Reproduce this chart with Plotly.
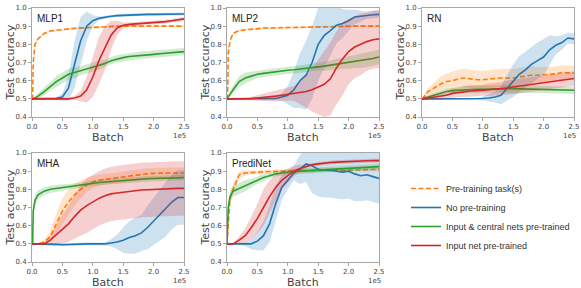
import plotly.graph_objects as go

# ---------------- data (batch in units of 1e5) ----------------
BATCH_1E5 = [0, 0.01, 0.02, 0.05, 0.1, 0.2, 0.3, 0.4, 0.5, 0.6, 0.7, 0.8, 0.9, 1.0,
             1.1, 1.2, 1.3, 1.4, 1.5, 1.6, 1.7, 1.8, 1.9, 2.0, 2.1, 2.2, 2.3, 2.4, 2.5]

PANEL_TITLES = ["MLP1", "MLP2", "RN", "MHA", "PrediNet"]
SERIES_NAMES = ["Pre-training task(s)", "No pre-training",
                "Input & central nets pre-trained", "Input net pre-trained"]
X_TICKS = [0, 0.5, 1.0, 1.5, 2.0, 2.5]
X_TICK_LABELS = ["0.0", "0.5", "1.0", "1.5", "2.0", "2.5"]
Y_TICKS = [0.4, 0.5, 0.6, 0.7, 0.8, 0.9, 1.0]
Y_TICK_LABELS = ["0.4", "0.5", "0.6", "0.7", "0.8", "0.9", "1.0"]

# MLP1
MLP1_PRE = [0.5, 0.5, 0.7, 0.8, 0.83, 0.86, 0.873, 0.878, 0.882, 0.885, 0.888, 0.89, 0.892, 0.894,
            0.896, 0.898, 0.899, 0.9, 0.9, 0.9, 0.9, 0.9, 0.9, 0.9, 0.9, 0.9, 0.9, 0.9, 0.9]
MLP1_PRE_SD = [0, 0, 0.02, 0.01, 0.008, 0.006, 0.005, 0.005, 0.005, 0.005, 0.005, 0.005, 0.005, 0.005,
               0.005, 0.005, 0.005, 0.005, 0.005, 0.005, 0.005, 0.005, 0.005, 0.005, 0.005, 0.005, 0.005, 0.005, 0.005]
MLP1_NONE = [0.5, 0.5, 0.5, 0.5, 0.5, 0.5, 0.5, 0.503, 0.51, 0.56, 0.69, 0.82, 0.9, 0.93,
             0.943, 0.95, 0.955, 0.958, 0.96, 0.962, 0.963, 0.964, 0.965, 0.965, 0.966, 0.966, 0.967, 0.967, 0.967]
MLP1_NONE_SD = [0.005, 0.005, 0.005, 0.005, 0.005, 0.005, 0.005, 0.006, 0.02, 0.07, 0.13, 0.13, 0.08, 0.03,
                0.01, 0.008, 0.008, 0.008, 0.008, 0.008, 0.008, 0.008, 0.008, 0.008, 0.008, 0.008, 0.008, 0.008, 0.008]
MLP1_BOTH = [0.5, 0.5, 0.5, 0.505, 0.515, 0.54, 0.57, 0.595, 0.615, 0.635, 0.645, 0.655, 0.665, 0.675,
             0.685, 0.695, 0.71, 0.72, 0.727, 0.733, 0.737, 0.74, 0.742, 0.745, 0.748, 0.751, 0.754, 0.757, 0.76]
MLP1_BOTH_SD = [0.005, 0.005, 0.008, 0.01, 0.015, 0.02, 0.025, 0.03, 0.03, 0.03, 0.03, 0.025, 0.025, 0.025,
                0.025, 0.02, 0.02, 0.02, 0.02, 0.02, 0.02, 0.02, 0.02, 0.02, 0.02, 0.02, 0.02, 0.02, 0.02]
MLP1_INPUT = [0.5, 0.5, 0.5, 0.5, 0.5, 0.5, 0.5, 0.5, 0.5, 0.5, 0.505, 0.515, 0.55, 0.62,
              0.71, 0.78, 0.85, 0.89, 0.905, 0.91, 0.912, 0.915, 0.917, 0.92, 0.922, 0.925, 0.93, 0.935, 0.94]
MLP1_INPUT_SD = [0.005, 0.005, 0.005, 0.005, 0.005, 0.005, 0.005, 0.005, 0.005, 0.005, 0.01, 0.03, 0.07, 0.11,
                 0.13, 0.12, 0.08, 0.04, 0.015, 0.01, 0.01, 0.01, 0.01, 0.01, 0.01, 0.01, 0.01, 0.01, 0.01]

# MLP2
MLP2_PRE = [0.5, 0.5, 0.75, 0.82, 0.86, 0.875, 0.88, 0.884, 0.887, 0.889, 0.89, 0.891, 0.892, 0.893,
            0.894, 0.895, 0.896, 0.897, 0.898, 0.899, 0.9, 0.9, 0.9, 0.9, 0.9, 0.9, 0.9, 0.9, 0.9]
MLP2_PRE_SD = [0, 0, 0.02, 0.01, 0.008, 0.006, 0.005, 0.005, 0.005, 0.005, 0.005, 0.005, 0.005, 0.005,
               0.005, 0.005, 0.005, 0.005, 0.005, 0.005, 0.005, 0.005, 0.005, 0.005, 0.005, 0.005, 0.005, 0.005, 0.005]
MLP2_NONE = [0.5, 0.5, 0.5, 0.5, 0.5, 0.5, 0.5, 0.5, 0.5, 0.5, 0.5, 0.502, 0.51, 0.52,
             0.55, 0.6, 0.63, 0.7, 0.8, 0.85, 0.875, 0.905, 0.915, 0.93, 0.95, 0.955, 0.96, 0.963, 0.965]
MLP2_NONE_SD = [0.005, 0.005, 0.005, 0.005, 0.005, 0.005, 0.005, 0.005, 0.005, 0.005, 0.005, 0.01, 0.02, 0.05,
                0.1, 0.15, 0.19, 0.2, 0.2, 0.18, 0.14, 0.1, 0.08, 0.06, 0.04, 0.03, 0.02, 0.02, 0.02]
MLP2_BOTH = [0.5, 0.505, 0.51, 0.53, 0.55, 0.595, 0.615, 0.625, 0.635, 0.64, 0.645, 0.65, 0.653, 0.657,
             0.66, 0.665, 0.67, 0.673, 0.676, 0.68, 0.685, 0.69, 0.695, 0.7, 0.705, 0.71, 0.715, 0.722, 0.73]
MLP2_BOTH_SD = [0.01, 0.01, 0.01, 0.015, 0.02, 0.03, 0.03, 0.025, 0.02, 0.02, 0.02, 0.02, 0.02, 0.02,
                0.02, 0.02, 0.02, 0.02, 0.02, 0.025, 0.025, 0.03, 0.03, 0.035, 0.035, 0.04, 0.04, 0.04, 0.04]
MLP2_INPUT = [0.5, 0.5, 0.5, 0.5, 0.5, 0.5, 0.5, 0.502, 0.505, 0.507, 0.51, 0.515, 0.52, 0.525,
              0.53, 0.532, 0.54, 0.55, 0.565, 0.58, 0.61, 0.67, 0.72, 0.76, 0.785, 0.8, 0.815, 0.825, 0.83]
MLP2_INPUT_SD = [0.005, 0.005, 0.005, 0.005, 0.005, 0.005, 0.005, 0.01, 0.015, 0.02, 0.025, 0.03, 0.03, 0.035,
                 0.04, 0.06, 0.09, 0.12, 0.15, 0.18, 0.2, 0.2, 0.2, 0.18, 0.17, 0.17, 0.16, 0.16, 0.16]

# RN
RN_PRE = [0.5, 0.5, 0.505, 0.52, 0.54, 0.56, 0.58, 0.595, 0.6, 0.61, 0.615, 0.61, 0.605, 0.605,
          0.61, 0.612, 0.615, 0.615, 0.615, 0.62, 0.625, 0.63, 0.63, 0.632, 0.635, 0.638, 0.645, 0.645, 0.642]
RN_PRE_SD = [0, 0.005, 0.01, 0.015, 0.02, 0.03, 0.04, 0.045, 0.05, 0.05, 0.05, 0.05, 0.05, 0.05,
             0.05, 0.05, 0.05, 0.05, 0.05, 0.05, 0.05, 0.05, 0.045, 0.045, 0.04, 0.04, 0.04, 0.04, 0.04]
RN_NONE = [0.5, 0.5, 0.5, 0.5, 0.5, 0.5, 0.5, 0.5, 0.5, 0.5, 0.5, 0.5, 0.5, 0.502,
           0.505, 0.51, 0.52, 0.56, 0.6, 0.635, 0.66, 0.69, 0.71, 0.73, 0.77, 0.795, 0.81, 0.835, 0.83]
RN_NONE_SD = [0.005, 0.005, 0.005, 0.005, 0.005, 0.005, 0.005, 0.005, 0.005, 0.005, 0.005, 0.005, 0.005, 0.01,
              0.02, 0.03, 0.05, 0.07, 0.09, 0.1, 0.1, 0.1, 0.1, 0.1, 0.08, 0.05, 0.04, 0.03, 0.03]
RN_BOTH = [0.5, 0.5, 0.502, 0.505, 0.51, 0.52, 0.53, 0.54, 0.545, 0.548, 0.55, 0.552, 0.553, 0.553,
           0.554, 0.555, 0.555, 0.556, 0.556, 0.555, 0.554, 0.553, 0.552, 0.551, 0.55, 0.55, 0.549, 0.548, 0.547]
RN_BOTH_SD = [0.005, 0.005, 0.008, 0.01, 0.01, 0.012, 0.015, 0.015, 0.015, 0.018, 0.02, 0.02, 0.02, 0.02,
              0.02, 0.02, 0.02, 0.02, 0.02, 0.02, 0.02, 0.02, 0.02, 0.02, 0.02, 0.02, 0.02, 0.02, 0.02]
RN_INPUT = [0.5, 0.5, 0.5, 0.502, 0.505, 0.51, 0.515, 0.52, 0.53, 0.535, 0.54, 0.543, 0.545, 0.547,
            0.55, 0.553, 0.556, 0.56, 0.565, 0.57, 0.575, 0.58, 0.585, 0.59, 0.595, 0.6, 0.605, 0.61, 0.612]
RN_INPUT_SD = [0.005, 0.005, 0.008, 0.01, 0.012, 0.015, 0.02, 0.02, 0.025, 0.025, 0.03, 0.03, 0.03, 0.03,
               0.035, 0.035, 0.035, 0.04, 0.04, 0.04, 0.04, 0.04, 0.04, 0.04, 0.04, 0.04, 0.04, 0.04, 0.04]

# MHA
MHA_PRE = [0.5, 0.5, 0.5, 0.5, 0.5, 0.51, 0.54, 0.61, 0.68, 0.73, 0.77, 0.8, 0.825, 0.84,
           0.85, 0.855, 0.86, 0.865, 0.87, 0.875, 0.88, 0.883, 0.886, 0.888, 0.89, 0.89, 0.89, 0.89, 0.89]
MHA_PRE_SD = [0.005, 0.005, 0.005, 0.005, 0.005, 0.01, 0.03, 0.06, 0.07, 0.07, 0.06, 0.05, 0.04, 0.035,
              0.03, 0.03, 0.03, 0.03, 0.03, 0.03, 0.03, 0.03, 0.03, 0.03, 0.03, 0.03, 0.03, 0.03, 0.03]
MHA_NONE = [0.5, 0.5, 0.5, 0.5, 0.5, 0.5, 0.498, 0.497, 0.495, 0.497, 0.498, 0.5, 0.5, 0.5,
            0.5, 0.5, 0.505, 0.51, 0.52, 0.535, 0.545, 0.56, 0.59, 0.625, 0.66, 0.69, 0.73, 0.755, 0.755]
MHA_NONE_SD = [0.005, 0.005, 0.005, 0.005, 0.005, 0.008, 0.008, 0.008, 0.008, 0.008, 0.008, 0.008, 0.008, 0.008,
               0.008, 0.008, 0.02, 0.04, 0.07, 0.09, 0.1, 0.1, 0.12, 0.13, 0.14, 0.15, 0.15, 0.15, 0.15]
MHA_BOTH = [0.5, 0.5, 0.68, 0.74, 0.77, 0.79, 0.8, 0.805, 0.81, 0.815, 0.82, 0.825, 0.83, 0.835,
            0.838, 0.84, 0.843, 0.846, 0.849, 0.852, 0.855, 0.857, 0.858, 0.86, 0.86, 0.862, 0.862, 0.863, 0.865]
MHA_BOTH_SD = [0, 0.01, 0.03, 0.03, 0.025, 0.02, 0.02, 0.02, 0.018, 0.015, 0.015, 0.015, 0.015, 0.015,
               0.015, 0.015, 0.015, 0.015, 0.015, 0.015, 0.015, 0.015, 0.015, 0.015, 0.015, 0.015, 0.015, 0.015, 0.015]
MHA_INPUT = [0.5, 0.5, 0.5, 0.5, 0.5, 0.5, 0.52, 0.55, 0.58, 0.61, 0.65, 0.685, 0.71, 0.73,
             0.75, 0.765, 0.775, 0.78, 0.785, 0.79, 0.793, 0.796, 0.798, 0.8, 0.8, 0.802, 0.803, 0.805, 0.805]
MHA_INPUT_SD = [0.005, 0.005, 0.005, 0.005, 0.005, 0.005, 0.02, 0.05, 0.08, 0.1, 0.12, 0.14, 0.15, 0.15,
                0.15, 0.15, 0.15, 0.15, 0.15, 0.15, 0.15, 0.15, 0.15, 0.15, 0.15, 0.15, 0.15, 0.15, 0.15]

# PrediNet
PREDINET_PRE = [0.5, 0.55, 0.65, 0.75, 0.8, 0.88, 0.89, 0.893, 0.895, 0.897, 0.898, 0.899, 0.9, 0.9,
                0.9, 0.9, 0.902, 0.903, 0.905, 0.905, 0.905, 0.905, 0.905, 0.906, 0.907, 0.908, 0.909, 0.91, 0.91]
PREDINET_PRE_SD = [0, 0.02, 0.03, 0.03, 0.03, 0.02, 0.015, 0.01, 0.01, 0.01, 0.01, 0.01, 0.01, 0.01,
                   0.01, 0.01, 0.01, 0.01, 0.01, 0.01, 0.01, 0.01, 0.01, 0.01, 0.01, 0.01, 0.01, 0.01, 0.01]
PREDINET_NONE = [0.5, 0.5, 0.5, 0.5, 0.5, 0.5, 0.497, 0.5, 0.515, 0.545, 0.61, 0.72, 0.81, 0.85,
                 0.89, 0.91, 0.94, 0.93, 0.91, 0.905, 0.905, 0.9, 0.895, 0.9, 0.885, 0.875, 0.88, 0.87, 0.86]
PREDINET_NONE_SD = [0.005, 0.005, 0.005, 0.005, 0.005, 0.005, 0.01, 0.03, 0.05, 0.08, 0.1, 0.1, 0.07, 0.05,
                    0.04, 0.08, 0.1, 0.15, 0.15, 0.15, 0.15, 0.15, 0.15, 0.15, 0.15, 0.14, 0.14, 0.14, 0.14]
PREDINET_BOTH = [0.5, 0.6, 0.7, 0.76, 0.79, 0.805, 0.82, 0.835, 0.85, 0.865, 0.875, 0.885, 0.89, 0.895,
                 0.898, 0.9, 0.902, 0.905, 0.907, 0.91, 0.912, 0.914, 0.916, 0.918, 0.92, 0.921, 0.922, 0.924, 0.925]
PREDINET_BOTH_SD = [0, 0.02, 0.03, 0.03, 0.03, 0.03, 0.03, 0.025, 0.02, 0.02, 0.015, 0.015, 0.015, 0.015,
                    0.015, 0.015, 0.015, 0.015, 0.015, 0.015, 0.015, 0.015, 0.015, 0.015, 0.015, 0.015, 0.015, 0.015, 0.015]
PREDINET_INPUT = [0.5, 0.5, 0.5, 0.5, 0.5, 0.52, 0.545, 0.59, 0.64, 0.7, 0.76, 0.81, 0.85, 0.875,
                  0.9, 0.915, 0.925, 0.935, 0.94, 0.945, 0.948, 0.95, 0.952, 0.955, 0.955, 0.956, 0.957, 0.958, 0.958]
PREDINET_INPUT_SD = [0.005, 0.005, 0.005, 0.005, 0.005, 0.02, 0.04, 0.06, 0.08, 0.1, 0.09, 0.07, 0.05, 0.04,
                     0.03, 0.02, 0.01, 0.01, 0.01, 0.01, 0.01, 0.01, 0.01, 0.01, 0.01, 0.01, 0.01, 0.01, 0.01]

PANEL_DATA = [
    [(MLP1_PRE, MLP1_PRE_SD), (MLP1_NONE, MLP1_NONE_SD), (MLP1_BOTH, MLP1_BOTH_SD), (MLP1_INPUT, MLP1_INPUT_SD)],
    [(MLP2_PRE, MLP2_PRE_SD), (MLP2_NONE, MLP2_NONE_SD), (MLP2_BOTH, MLP2_BOTH_SD), (MLP2_INPUT, MLP2_INPUT_SD)],
    [(RN_PRE, RN_PRE_SD), (RN_NONE, RN_NONE_SD), (RN_BOTH, RN_BOTH_SD), (RN_INPUT, RN_INPUT_SD)],
    [(MHA_PRE, MHA_PRE_SD), (MHA_NONE, MHA_NONE_SD), (MHA_BOTH, MHA_BOTH_SD), (MHA_INPUT, MHA_INPUT_SD)],
    [(PREDINET_PRE, PREDINET_PRE_SD), (PREDINET_NONE, PREDINET_NONE_SD),
     (PREDINET_BOTH, PREDINET_BOTH_SD), (PREDINET_INPUT, PREDINET_INPUT_SD)],
]

# ---------------- styling ----------------
W, H = 581, 288
COLORS = ["#ff7f0e", "#1f77b4", "#2ca02c", "#d62728"]
BAND_COLORS = ["rgba(255,127,14,0.22)", "rgba(31,119,180,0.22)",
               "rgba(44,160,44,0.22)", "rgba(214,39,40,0.22)"]
DASHES = ["5px,2.5px", "solid", "solid", "solid"]

COL_PX = [(32, 184), (227, 379), (422, 574)]
ROW_PX = [(8, 117), (153, 262)]
PANEL_POS = [(0, 0), (0, 1), (0, 2), (1, 0), (1, 1)]

TICK_FONT = dict(family="DejaVu Sans", size=7, color="#444444")
LABEL_FONT = dict(family="DejaVu Sans", size=11, color="#444444")
TITLE_FONT = dict(family="Liberation Sans, Arial", size=10, color="#222222")
SPINE = "#a8a8a8"

fig = go.Figure()
annotations = []

for p, (title, series) in enumerate(zip(PANEL_TITLES, PANEL_DATA)):
    r, c = PANEL_POS[p]
    sfx = "" if p == 0 else str(p + 1)
    xa, ya = "x" + sfx, "y" + sfx
    for s, (mean, sd) in enumerate(series):
        lo = [m - d for m, d in zip(mean, sd)]
        hi = [m + d for m, d in zip(mean, sd)]
        fig.add_trace(go.Scatter(x=BATCH_1E5, y=lo, xaxis=xa, yaxis=ya, mode="lines",
                                 line=dict(width=0), showlegend=False, hoverinfo="skip",
                                 legendgroup=f"g{s}"))
        fig.add_trace(go.Scatter(x=BATCH_1E5, y=hi, xaxis=xa, yaxis=ya, mode="lines",
                                 line=dict(width=0), fill="tonexty", fillcolor=BAND_COLORS[s],
                                 showlegend=False, hoverinfo="skip", legendgroup=f"g{s}"))
        fig.add_trace(go.Scatter(x=BATCH_1E5, y=mean, xaxis=xa, yaxis=ya, mode="lines",
                                 name=SERIES_NAMES[s],
                                 line=dict(color=COLORS[s], width=1.6, dash=DASHES[s]),
                                 showlegend=(p == 0), legendgroup=f"g{s}"))

    x0, x1 = COL_PX[c]
    y0, y1 = ROW_PX[r]
    axis_common = dict(showline=True, linecolor=SPINE, linewidth=1, mirror=True,
                       ticks="outside", ticklen=3, tickcolor=SPINE, tickwidth=1,
                       showgrid=False, zeroline=False, tickfont=TICK_FONT, automargin=False)
    fig.update_layout(**{
        ("xaxis" + sfx): dict(domain=[x0 / W, x1 / W], range=[0, 2.5], anchor=ya,
                              tickvals=X_TICKS, ticktext=X_TICK_LABELS, **axis_common),
        ("yaxis" + sfx): dict(domain=[1 - y1 / H, 1 - y0 / H], range=[0.4, 1.0], anchor=xa,
                              tickvals=Y_TICKS, ticktext=Y_TICK_LABELS, **axis_common),
    })
    annotations += [
        dict(text=title, xref=xa + " domain", yref=ya + " domain", x=0.02, y=1, yshift=-10,
             xanchor="left", yanchor="middle", showarrow=False, font=TITLE_FONT),
        dict(text="Test accuracy", xref=xa + " domain", yref=ya + " domain", x=0, y=0.5,
             xshift=-22, textangle=-90, xanchor="center", yanchor="middle",
             showarrow=False, font=LABEL_FONT),
        dict(text="Batch", xref=xa + " domain", yref=ya + " domain", x=0.5, y=0, yshift=-20,
             xanchor="center", yanchor="middle", showarrow=False, font=LABEL_FONT),
        dict(text="1e5", xref=xa + " domain", yref=ya + " domain", x=1, y=0, yshift=-19,
             xshift=3, xanchor="right", yanchor="middle", showarrow=False, font=TICK_FONT,
             borderpad=0),
    ]

fig.update_layout(
    template="none",
    width=W, height=H, margin=dict(l=0, r=0, t=0, b=0, autoexpand=False),
    paper_bgcolor="white", plot_bgcolor="white",
    annotations=annotations,
    showlegend=True,
    legend=dict(x=(412 - 6) / W, y=1 - 174 / H, xanchor="left", yanchor="top",
                font=dict(family="Liberation Sans, Arial", size=9, color="#333333"),
                tracegroupgap=0, bgcolor="rgba(0,0,0,0)", borderwidth=0,
                itemwidth=30),
)

fig.write_html("out.html",
               config={"displayModeBar": False, "staticPlot": True},
               post_script="document.body.style.margin='0';document.body.style.padding='0';")
